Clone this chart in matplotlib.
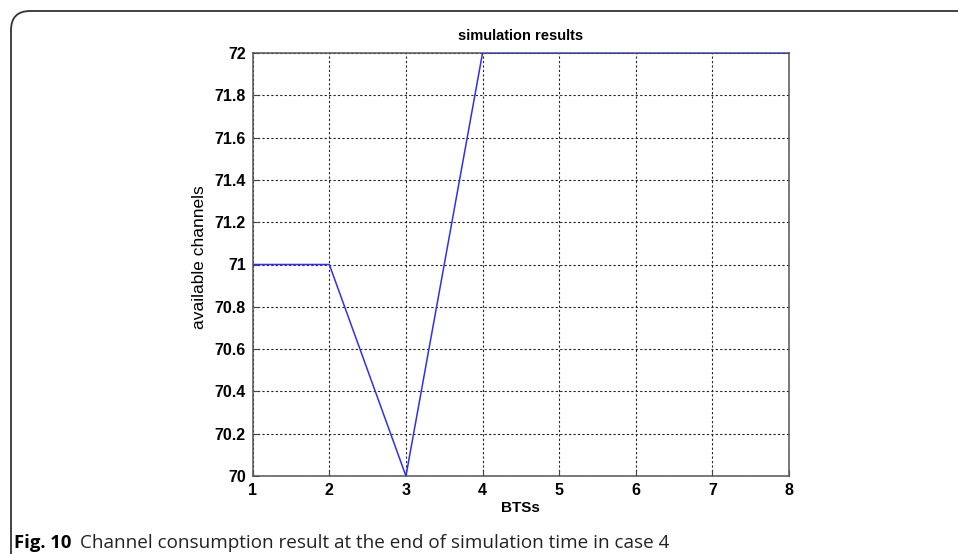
import matplotlib
matplotlib.use("Agg")
import matplotlib.pyplot as plt
from matplotlib.patches import FancyBboxPatch

# Data
bts = [1, 2, 3, 4, 5, 6, 7, 8]
channels = [71, 71, 70, 72, 72, 72, 72, 72]
xticks = [1, 2, 3, 4, 5, 6, 7, 8]
yticks = [70, 70.2, 70.4, 70.6, 70.8, 71, 71.2, 71.4, 71.6, 71.8, 72]
ytick_labels = ["70", "70.2", "70.4", "70.6", "70.8", "71", "71.2", "71.4", "71.6", "71.8", "72"]

W, H = 958, 554
fig = plt.figure(figsize=(W / 100, H / 100), dpi=100)
fig.patch.set_facecolor("white")

# Rounded frame (only top-left corner visible)
frame = FancyBboxPatch((11 / W, -0.2), 1.2, (H - 11) / H + 0.2,
                       boxstyle="round,pad=0,rounding_size=0.02",
                       transform=fig.transFigure, facecolor="none",
                       edgecolor="#333333", linewidth=1.3, mutation_aspect=W / H)
fig.patches.append(frame)

ax = fig.add_axes([252.7 / W, 1 - 476 / H, (789 - 252.7) / W, (476 - 53) / H])
ax.plot(bts, channels, color="#3030e8", linewidth=1.1, zorder=3)

ax.set_xlim(1, 8)
ax.set_ylim(70, 72)
ax.set_xticks(xticks)
ax.set_yticks(yticks)
ax.set_xticklabels([str(v) for v in xticks])
ax.set_yticklabels(ytick_labels)

font = "Liberation Sans"
for lab in ax.get_xticklabels() + ax.get_yticklabels():
    lab.set_fontfamily(font)
    lab.set_fontweight("bold")
    lab.set_fontsize(11.5)

ax.tick_params(direction="in", length=4, width=0.8, color="#444444", pad=5)
ax.grid(True, linestyle=(0, (2, 2)), color="#222222", linewidth=0.8)
ax.set_axisbelow(True)
for sp in ax.spines.values():
    sp.set_color("#555555")
    sp.set_linewidth(1.1)

ax.set_title("simulation results", fontfamily=font, fontweight="bold", fontsize=10.5, pad=9)
ax.set_xlabel("BTSs", fontfamily=font, fontweight="bold", fontsize=11, labelpad=2)
ax.set_ylabel("available channels", fontfamily=font, fontsize=12.5)
ax.yaxis.set_label_coords(-0.086, 0.517)

# Caption
fig.text(14 / W, 1 - 543 / H, "Fig. 10", fontfamily="Open Sans", fontweight="bold",
         fontsize=13.3, va="center", ha="left")
fig.text(80 / W, 1 - 543 / H, "Channel consumption result at the end of simulation time in case 4",
         fontfamily="Open Sans", fontsize=13.6, va="center", ha="left", color="#222222")

fig.savefig("out.png", dpi=100)
